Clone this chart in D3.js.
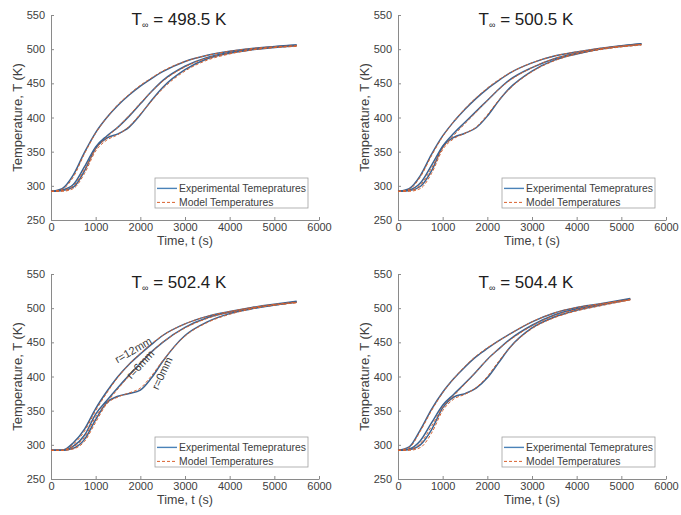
<!DOCTYPE html>
<html>
<head>
<meta charset="utf-8">
<script src="https://cdn.jsdelivr.net/npm/d3@7"></script>
<style>
  html, body { margin: 0; padding: 0; background: #fff; }
  svg { display: block; font-family: "Liberation Sans", Arial, sans-serif; }
</style>
</head>
<body>
<svg id="chart" width="681" height="515"></svg>
<script>
// Ambient (free-stream) temperature of each run, K
const ambientTemps = [498.5, 500.5, 502.4, 504.4];

// Sampling times, s (each run ends at a slightly different time)
const time498 = [0, 250, 500, 750, 1000, 1250, 1500, 1750, 2000, 2250, 2500, 3000, 3500, 4000, 4500, 5500];
const time500 = [0, 250, 500, 750, 1000, 1250, 1500, 1750, 2000, 2250, 2500, 3000, 3500, 4000, 4500, 5450];
const time502 = [0, 250, 500, 750, 1000, 1250, 1500, 1750, 2000, 2250, 2500, 3000, 3500, 4000, 4500, 5500];
const time504 = [0, 250, 500, 750, 1000, 1250, 1500, 1750, 2000, 2250, 2500, 3000, 3500, 4000, 4500, 5200];

// T∞ = 498.5 K : measured and modelled temperatures at r = 12, 6, 0 mm
const exp498_r12 = [292, 296, 316, 349, 378, 400, 418, 433, 446, 457, 467, 482, 491, 497, 501, 506];
const exp498_r6  = [292, 294, 302, 328, 357, 373, 386, 402, 420, 438, 454, 475, 488, 495, 500, 506];
const exp498_r0  = [292, 293, 298, 322, 355, 370, 376, 386, 404, 425, 444, 470, 486, 494, 499, 505];
const mod498_r12 = [292, 295, 313, 347, 377, 400, 419, 434, 447, 458, 468, 482, 491, 497, 501, 505];
const mod498_r6  = [292, 293, 300, 324, 354, 371, 386, 403, 421, 438, 453, 474, 487, 494, 499, 505];
const mod498_r0  = [292, 292, 296, 318, 351, 367, 375, 387, 405, 424, 442, 468, 484, 493, 499, 504];

// T∞ = 500.5 K
const exp500_r12 = [292, 296, 315, 346, 373, 394, 412, 428, 442, 454, 465, 480, 490, 496, 501, 508];
const exp500_r6  = [292, 294, 304, 330, 358, 377, 393, 409, 425, 441, 455, 473, 486, 494, 500, 508];
const exp500_r0  = [292, 293, 299, 322, 357, 371, 377, 385, 402, 424, 443, 468, 484, 493, 500, 507];
const mod500_r12 = [292, 295, 313, 344, 372, 394, 413, 429, 443, 455, 465, 480, 490, 496, 501, 507];
const mod500_r6  = [292, 293, 301, 326, 355, 374, 391, 408, 425, 441, 454, 473, 486, 494, 500, 507];
const mod500_r0  = [292, 292, 296, 318, 353, 369, 377, 386, 404, 425, 442, 467, 483, 493, 499, 506];

// T∞ = 502.4 K
const exp502_r12 = [292, 292, 303, 323, 353, 378, 400, 418, 433, 447, 460, 477, 488, 495, 501, 510];
const exp502_r6  = [292, 292, 298, 314, 345, 365, 384, 402, 419, 436, 450, 472, 486, 494, 500, 509];
const exp502_r0  = [292, 292, 295, 308, 337, 362, 371, 375, 380, 398, 422, 460, 480, 492, 499, 509];
const mod502_r12 = [292, 292, 301, 320, 350, 376, 399, 418, 434, 448, 460, 477, 488, 495, 501, 509];
const mod502_r6  = [292, 292, 297, 311, 341, 362, 382, 401, 419, 436, 450, 471, 485, 494, 500, 508];
const mod502_r0  = [292, 292, 294, 305, 333, 360, 370, 376, 383, 401, 423, 459, 479, 491, 499, 508];

// T∞ = 504.4 K
const exp504_r12 = [292, 297, 322, 352, 377, 397, 414, 429, 441, 452, 462, 480, 493, 501, 506, 514];
const exp504_r6  = [292, 294, 306, 332, 358, 374, 390, 407, 425, 440, 454, 475, 490, 499, 505, 513];
const exp504_r0  = [292, 293, 300, 322, 354, 370, 375, 383, 398, 420, 442, 471, 487, 497, 504, 513];
const mod504_r12 = [292, 296, 320, 350, 376, 397, 415, 430, 442, 452, 462, 480, 493, 501, 506, 513];
const mod504_r6  = [292, 293, 302, 327, 355, 372, 389, 407, 425, 440, 453, 474, 489, 498, 505, 512];
const mod504_r0  = [292, 292, 296, 317, 350, 367, 374, 384, 400, 422, 442, 470, 486, 496, 503, 512];

// Axis ticks
const timeTicks = [0, 1000, 2000, 3000, 4000, 5000, 6000];
const tempTicks = [250, 300, 350, 400, 450, 500, 550];

// Legend entries and radial-position annotations (third run)
const legendLabels = ["Experimental Temepratures", "Model Temperatures"];
const radiusLabels = ["r=12mm", "r=6mm", "r=0mm"];
const radiusLabelTime = [1840, 1997, 2482];
const radiusLabelTemp = [439, 418, 405];
const radiusLabelAngle = [-30, -47, -65];

// ---------------------------------------------------------------------------
const runs = [
  { amb: ambientTemps[0], t: time498, exp: [exp498_r12, exp498_r6, exp498_r0], mod: [mod498_r12, mod498_r6, mod498_r0] },
  { amb: ambientTemps[1], t: time500, exp: [exp500_r12, exp500_r6, exp500_r0], mod: [mod500_r12, mod500_r6, mod500_r0] },
  { amb: ambientTemps[2], t: time502, exp: [exp502_r12, exp502_r6, exp502_r0], mod: [mod502_r12, mod502_r6, mod502_r0], notes: true },
  { amb: ambientTemps[3], t: time504, exp: [exp504_r12, exp504_r6, exp504_r0], mod: [mod504_r12, mod504_r6, mod504_r0] }
];

const panelW = 268, panelH = 205;
const origins = [[51, 15], [398, 15], [51, 274], [398, 274]];

const axisColor = "#8a8a8a";
const textColor = "#404040";
const expColor = "#3d6390";
const modColor = "#d9622e";

const svg = d3.select("#chart");

runs.forEach((run, i) => {
  const [ox, oy] = origins[i];
  const g = svg.append("g").attr("transform", `translate(${ox},${oy})`);

  const x = d3.scaleLinear().domain([0, 6000]).range([0, panelW]);
  const y = d3.scaleLinear().domain([250, 550]).range([panelH, 0]);

  // axes (left and bottom only, ticks pointing inward)
  const xAxis = g.append("g")
    .attr("transform", `translate(0,${panelH})`)
    .call(d3.axisBottom(x).tickValues(timeTicks).tickFormat(d3.format("d"))
      .tickSizeInner(-3).tickSizeOuter(0).tickPadding(3));
  const yAxis = g.append("g")
    .call(d3.axisLeft(y).tickValues(tempTicks).tickFormat(d3.format("d"))
      .tickSizeInner(-3).tickSizeOuter(0).tickPadding(6));
  [xAxis, yAxis].forEach(a => {
    a.select(".domain").attr("stroke", axisColor);
    a.selectAll(".tick line").attr("stroke", axisColor);
    a.selectAll(".tick text").attr("fill", textColor)
      .style("font-size", "11px")
      .style("font-family", "'Liberation Sans', Arial, sans-serif");
  });

  // axis titles
  g.append("text")
    .attr("x", panelW / 2).attr("y", panelH + 25)
    .attr("text-anchor", "middle")
    .attr("fill", textColor).style("font-size", "12.5px")
    .text("Time, t (s)");
  g.append("text")
    .attr("transform", `translate(-29,${panelH / 2}) rotate(-90)`)
    .attr("text-anchor", "middle")
    .attr("fill", textColor).style("font-size", "13px")
    .text("Temperature, T (K)");

  // panel title: T∞ = ... K
  const title = g.append("text")
    .attr("x", panelW / 2 - 6).attr("y", i < 2 ? 10 : 14)
    .attr("text-anchor", "middle")
    .attr("fill", "#202020").style("font-size", "17px");
  title.append("tspan").text("T");
  title.append("tspan").attr("dy", 3).style("font-size", "9px").text("\u221E");
  title.append("tspan").attr("dy", -3).text(` = ${run.amb} K`);

  // curves: experiment (solid) under model (dashed)
  const line = d3.line()
    .x((d, k) => x(run.t[k]))
    .y(d => y(d))
    .curve(d3.curveMonotoneX);

  run.exp.forEach(series => {
    g.append("path").datum(series)
      .attr("d", line)
      .attr("fill", "none")
      .attr("stroke", expColor)
      .attr("stroke-width", 1.5);
  });
  run.mod.forEach(series => {
    g.append("path").datum(series)
      .attr("d", line)
      .attr("fill", "none")
      .attr("stroke", modColor)
      .attr("stroke-width", 1)
      .attr("stroke-dasharray", "3,2");
  });

  // radial position annotations
  if (run.notes) {
    radiusLabels.forEach((lab, k) => {
      g.append("text")
        .attr("transform", `translate(${x(radiusLabelTime[k])},${y(radiusLabelTemp[k])}) rotate(${radiusLabelAngle[k]})`)
        .attr("text-anchor", "middle")
        .attr("dominant-baseline", "central")
        .attr("fill", "#3a3a3a")
        .style("font-size", "11px")
        .text(lab);
    });
  }

  // legend
  const lw = 153, lh = 30;
  const lg = g.append("g").attr("transform", `translate(${panelW - 11 - lw},${panelH - 12 - lh})`);
  lg.append("rect").attr("width", lw).attr("height", lh)
    .attr("fill", "#fff").attr("stroke", "#a0a0a0").attr("stroke-width", 0.8);
  legendLabels.forEach((lab, k) => {
    const ly = 10.4 + k * 14;
    lg.append("line")
      .attr("x1", 2).attr("x2", 22).attr("y1", ly).attr("y2", ly)
      .attr("stroke", k === 0 ? "#4a82b8" : modColor)
      .attr("stroke-width", k === 0 ? 1.4 : 1)
      .attr("stroke-dasharray", k === 0 ? null : "3,2");
    lg.append("text")
      .attr("x", 24).attr("y", ly)
      .attr("dominant-baseline", "central")
      .attr("fill", textColor)
      .style("font-size", "10.4px")
      .text(lab);
  });
});
</script>
</body>
</html>
